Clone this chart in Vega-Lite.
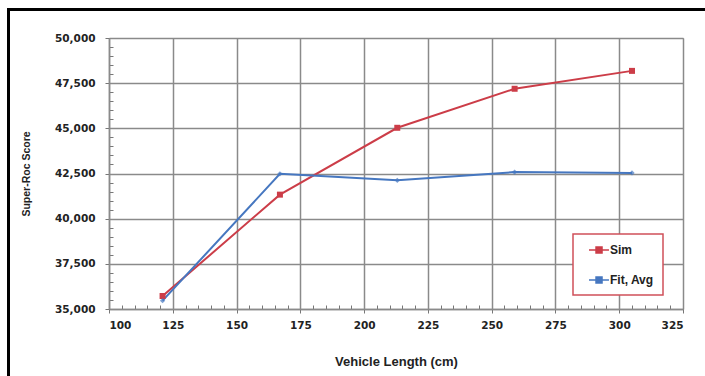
{
  "$schema": "https://vega.github.io/schema/vega-lite/v6.json",
  "width": 574,
  "height": 271,
  "autosize": {"type": "none"},
  "padding": {"left": 109, "top": 38, "right": 22, "bottom": 67},
  "background": "white",
  "config": {
    "view": {"stroke": "#9a9a9a", "strokeWidth": 1},
    "legend": {"strokeWidth": 3}
  },
  "data": {
    "values": [
      {"length": 121, "score": 35720, "series": "Sim"},
      {"length": 167, "score": 41330, "series": "Sim"},
      {"length": 213, "score": 45030, "series": "Sim"},
      {"length": 259, "score": 47190, "series": "Sim"},
      {"length": 305, "score": 48180, "series": "Sim"},
      {"length": 121, "score": 35460, "series": "Fit, Avg"},
      {"length": 167, "score": 42480, "series": "Fit, Avg"},
      {"length": 213, "score": 42120, "series": "Fit, Avg"},
      {"length": 259, "score": 42580, "series": "Fit, Avg"},
      {"length": 305, "score": 42530, "series": "Fit, Avg"}
    ]
  },
  "encoding": {
    "x": {
      "field": "length", "type": "quantitative",
      "scale": {"domain": [100, 325], "nice": false, "zero": false},
      "axis": {
        "orient": "bottom",
        "values": [100, 105, 110, 115, 120, 125, 130, 135, 140, 145, 150, 155, 160, 165, 170, 175, 180, 185, 190, 195, 200, 205, 210, 215, 220, 225, 230, 235, 240, 245, 250, 255, 260, 265, 270, 275, 280, 285, 290, 295, 300, 305, 310, 315, 320, 325],
        "labelExpr": "datum.value % 25 === 0 ? datum.label : ''",
        "labelOverlap": false,
        "grid": true, "gridColor": "#8a8a8a", "gridWidth": 1.5,
        "gridOpacity": {"condition": {"test": "datum.value % 25 !== 0", "value": 0}, "value": 1},
        "domainColor": "#8a8a8a", "domainWidth": 1.5,
        "tickColor": "#777",
        "tickSize": {"condition": {"test": "datum.value % 25 !== 0", "value": -4}, "value": 4},
        "labelFont": "DejaVu Sans", "labelFontWeight": "bold", "labelFontSize": 10.5, "labelColor": "#222",
        "labelPadding": 7,
        "title": "Vehicle Length (cm)",
        "titleFont": "Liberation Sans", "titleFontWeight": "bold", "titleFontSize": 13, "titleColor": "#222",
        "titlePadding": 25
      }
    },
    "y": {
      "field": "score", "type": "quantitative",
      "scale": {"domain": [35000, 50000], "nice": false, "zero": false},
      "axis": {
        "orient": "left",
        "values": [35000, 35500, 36000, 36500, 37000, 37500, 38000, 38500, 39000, 39500, 40000, 40500, 41000, 41500, 42000, 42500, 43000, 43500, 44000, 44500, 45000, 45500, 46000, 46500, 47000, 47500, 48000, 48500, 49000, 49500, 50000],
        "format": ",.0f",
        "labelExpr": "datum.value % 2500 === 0 ? datum.label : ''",
        "labelOverlap": false,
        "grid": true, "gridColor": "#8a8a8a", "gridWidth": 1.5,
        "gridOpacity": {"condition": {"test": "datum.value % 2500 !== 0", "value": 0}, "value": 1},
        "domainColor": "#8a8a8a", "domainWidth": 1.5,
        "tickColor": "#777",
        "tickSize": {"condition": {"test": "datum.value % 2500 !== 0", "value": -4}, "value": 4},
        "labelFont": "DejaVu Sans", "labelFontWeight": "bold", "labelFontSize": 10.5, "labelColor": "#222",
        "labelPadding": 10,
        "title": "Super-Roc Score",
        "titleFont": "Liberation Sans", "titleFontWeight": "bold", "titleFontSize": 10.5, "titleColor": "#222",
        "titlePadding": 23
      }
    },
    "color": {
      "field": "series", "type": "nominal",
      "scale": {"domain": ["Sim", "Fit, Avg"], "range": ["#cc3d48", "#4677c0"]},
      "legend": {
        "orient": "none", "legendX": 464, "legendY": 196,
        "title": null,
        "strokeColor": "#d0505a", "fillColor": "white",
        "padding": 9,
        "symbolType": "M0,0H3.33M1.17,-0.5H2.17V0.5H1.17Z",
        "symbolSize": 144,
        "symbolStrokeWidth": 1.5,
        "labelFont": "Liberation Sans", "labelFontWeight": "bold", "labelFontSize": 12, "labelColor": "#222",
        "labelOffset": 14,
        "rowPadding": 17,
        "encode": {
          "legend": {"update": {"strokeWidth": {"value": 1.5}}},
          "symbols": {"update": {
            "shape": {"value": "M0,0H3.33M1.17,-0.5H2.17V0.5H1.17Z"},
            "size": {"value": 144},
            "fill": {"scale": "color", "field": "value"},
            "stroke": {"scale": "color", "field": "value"},
            "strokeWidth": {"value": 1.5}
          }}
        }
      }
    }
  },
  "layer": [
    {
      "mark": {"type": "line", "strokeWidth": 2}
    },
    {
      "transform": [{"filter": "datum.series === 'Sim'"}],
      "mark": {"type": "point", "filled": true, "size": 36, "shape": "square"},
      "encoding": {
        "opacity": {
          "field": "length", "type": "quantitative",
          "scale": {"range": [1, 1]},
          "legend": {
            "orient": "none", "legendX": -100.5, "legendY": -28.5,
            "title": null,
            "values": [121],
            "labelExpr": "''",
            "strokeColor": "black",
            "padding": 400,
            "labelOpacity": 0,
            "symbolOpacity": 0,
            "symbolSize": 0
          }
        }
      }
    },
    {
      "transform": [{"filter": "datum.series === 'Fit, Avg'"}],
      "mark": {"type": "point", "filled": true, "size": 28, "shape": "diamond"}
    }
  ]
}
